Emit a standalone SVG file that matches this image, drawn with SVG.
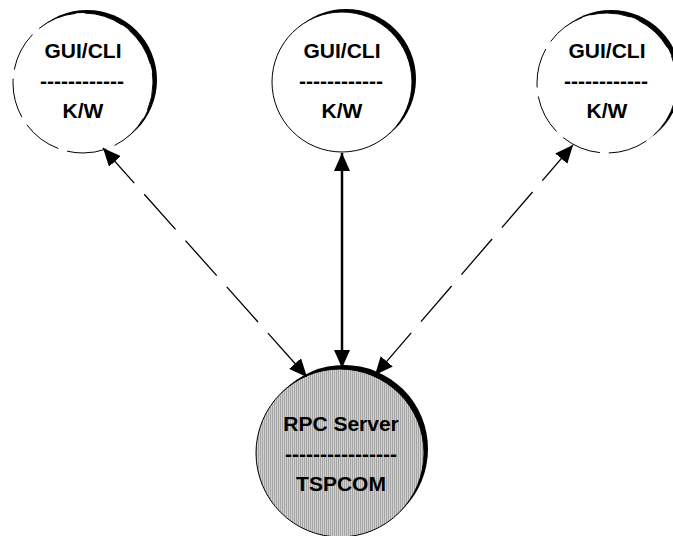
<svg xmlns="http://www.w3.org/2000/svg" width="673" height="536" viewBox="0 0 673 536">
  <defs>
    <style>
      .lbl { font-family: "Liberation Sans", Arial, sans-serif; font-weight: bold; font-size: 21px; fill: #000; text-anchor: middle; }
      .shade { fill: #000; }
      .ring { fill: #fff; stroke: #000; stroke-width: 1; }
      .ring-dash { fill: #fff; stroke: #000; stroke-width: 1; stroke-dasharray: 40 9; }
      .link { fill: none; stroke: #000; stroke-width: 1.3; }
      .link-dash { stroke-dasharray: 47 15; }
      .link-solid { stroke-width: 2.5; }
    </style>
    <pattern id="hatch" width="2" height="4" patternUnits="userSpaceOnUse">
      <rect width="2" height="4" fill="#d0d0d0"/>
      <rect width="1" height="4" fill="#a6a6a6"/>
    </pattern>
    <marker id="head" viewBox="0 0 18 16" refX="18" refY="8" markerWidth="18" markerHeight="16" markerUnits="userSpaceOnUse" orient="auto-start-reverse">
      <path d="M0,0 L18,8 L0,16 Z" fill="#000"/>
    </marker>
  </defs>

  <!-- client nodes -->
  <g id="client-left">
    <circle class="shade" cx="87" cy="80" r="70"/>
    <circle class="ring-dash" cx="83" cy="83" r="70" stroke-dashoffset="12"/>
    <text class="lbl" x="83" y="58">GUI/CLI</text>
    <text class="lbl" x="82" y="88">------------</text>
    <text class="lbl" x="83" y="118">K/W</text>
  </g>

  <g id="client-center">
    <circle class="shade" cx="346" cy="79" r="70"/>
    <circle class="ring" cx="342" cy="82" r="70"/>
    <text class="lbl" x="342" y="58">GUI/CLI</text>
    <text class="lbl" x="341" y="88">------------</text>
    <text class="lbl" x="342" y="118">K/W</text>
  </g>

  <g id="client-right">
    <circle class="shade" cx="611" cy="80" r="70"/>
    <circle class="ring-dash" cx="607" cy="83" r="70" stroke-dashoffset="30"/>
    <text class="lbl" x="607" y="58">GUI/CLI</text>
    <text class="lbl" x="606" y="88">------------</text>
    <text class="lbl" x="607" y="118">K/W</text>
  </g>

  <!-- server node -->
  <g id="server">
    <circle class="shade" cx="344" cy="449" r="84"/>
    <circle cx="340" cy="453" r="84" fill="url(#hatch)" stroke="#000" stroke-width="1"/>
    <text class="lbl" x="341" y="431">RPC Server</text>
    <text class="lbl" x="341" y="461">----------------</text>
    <text class="lbl" x="341" y="491">TSPCOM</text>
  </g>

  <!-- connectors -->
  <g id="connectors">
    <line class="link link-dash" x1="103" y1="148" x2="307" y2="377" marker-start="url(#head)" marker-end="url(#head)"/>
    <line class="link link-solid" x1="342" y1="153" x2="342" y2="368" marker-start="url(#head)" marker-end="url(#head)"/>
    <line class="link link-dash" x1="573" y1="145" x2="375" y2="375" marker-start="url(#head)" marker-end="url(#head)"/>
  </g>
</svg>
